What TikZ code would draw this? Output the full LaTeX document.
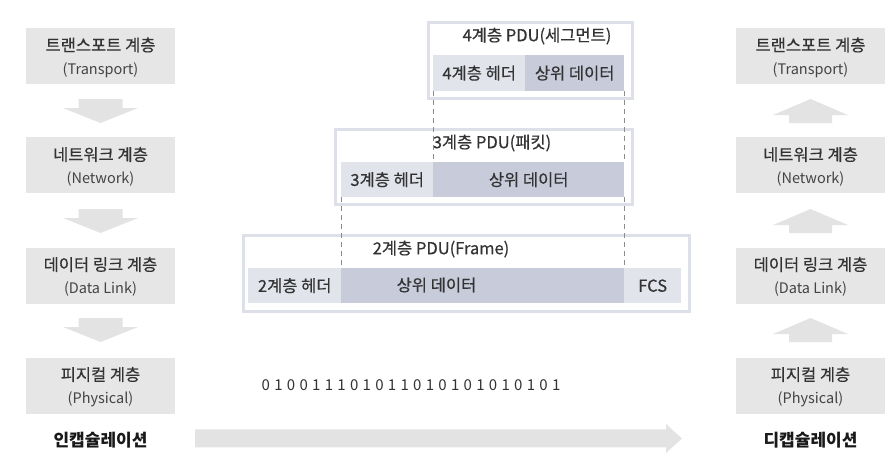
\documentclass[tikz,border=0pt]{standalone}
\usepackage{fontspec}
\setmainfont{Noto Sans CJK KR}[FakeBold=0.5]
\newfontfamily\plainfont{Noto Sans CJK KR}
\usetikzlibrary{calc}

\definecolor{boxgray}{HTML}{E6E6E6}
\definecolor{arrowgray}{HTML}{E3E3E3}
\definecolor{hdrfill}{HTML}{E2E4EC}
\definecolor{datafill}{HTML}{C7CBDA}
\definecolor{pduframe}{HTML}{DDE0E9}
\definecolor{guidegray}{HTML}{8C8C8C}
\definecolor{textdark}{HTML}{333333}
\definecolor{textmid}{HTML}{444444}

% block arrow pointing down: centre x, top y
\newcommand\DownBlock[2]{%
  \fill[arrowgray] ({#1-22},{#2}) -- ({#1+22},{#2}) -- ({#1+22},{#2+9})
    -- ({#1+37.5},{#2+9}) -- ({#1},{#2+24}) -- ({#1-37.5},{#2+9})
    -- ({#1-22},{#2+9}) -- cycle;}
% block arrow pointing up: centre x, tip y
\newcommand\UpBlock[2]{%
  \fill[arrowgray] ({#1},{#2}) -- ({#1+37.5},{#2+16}) -- ({#1+21.5},{#2+16})
    -- ({#1+21.5},{#2+24}) -- ({#1-21.5},{#2+24}) -- ({#1-21.5},{#2+16})
    -- ({#1-37.5},{#2+16}) -- cycle;}

\begin{document}
\begin{tikzpicture}[x=1pt,y=-1pt,
  layerbox/.style={fill=boxgray, minimum width=149pt, minimum height=56pt, inner sep=0pt},
  kor/.style={font=\fontsize{16.5}{16.5}\selectfont, text=textdark, inner sep=0pt},
  eng/.style={font=\plainfont\fontsize{14.5}{14.5}\selectfont, text=textmid, inner sep=0pt},
  bold/.style={font=\plainfont\fontsize{17}{17}\selectfont\bfseries, text=black!90, inner sep=0pt},
  pdubox/.style={draw=pduframe, line width=3pt, anchor=north west, inner sep=0pt},
  hdr/.style={fill=hdrfill, anchor=north west, inner sep=0pt, font=\fontsize{16.5}{16.5}\selectfont, text=textdark},
  datab/.style={fill=datafill, anchor=north west, inner sep=0pt, font=\fontsize{16.5}{16.5}\selectfont, text=textdark},
  guide/.style={draw=guidegray, line width=0.9pt, dash pattern=on 5pt off 4pt}
]
\useasboundingbox (0,0) rectangle (896,456);

% ---- sending side (encapsulation) ----
\node[layerbox] (L1) at (100.5,56) {};
\node[kor] (L1k) at (100.5,45) {트랜스포트 계층};
\node[eng] (L1e) at (100.5,70) {(Transport)};
\node[layerbox] (L2) at (100.5,165) {};
\node[kor] (L2k) at (100.5,154.5) {네트워크 계층};
\node[eng] (L2e) at (100.5,178.5) {(Network)};
\node[layerbox] (L3) at (100.5,275.5) {};
\node[kor] (L3k) at (100.5,264.5) {데이터 링크 계층};
\node[eng] (L3e) at (100.5,289) {(Data Link)};
\node[layerbox] (L4) at (100.5,385.5) {};
\node[kor] (L4k) at (100.5,374.5) {피지컬 계층};
\node[eng] (L4e) at (100.5,399) {(Physical)};
\DownBlock{100.5}{99}
\DownBlock{100.5}{209}
\DownBlock{100.5}{318}
\node[bold] (enc) at (100.5,440) {인캡슐레이션};

% ---- receiving side (decapsulation) ----
\node[layerbox] (R1) at (810.5,56) {};
\node[kor] (R1k) at (810.5,45) {트랜스포트 계층};
\node[eng] (R1e) at (810.5,70) {(Transport)};
\node[layerbox] (R2) at (810.5,165) {};
\node[kor] (R2k) at (810.5,154.5) {네트워크 계층};
\node[eng] (R2e) at (810.5,178.5) {(Network)};
\node[layerbox] (R3) at (810.5,275.5) {};
\node[kor] (R3k) at (810.5,264.5) {데이터 링크 계층};
\node[eng] (R3e) at (810.5,289) {(Data Link)};
\node[layerbox] (R4) at (810.5,385.5) {};
\node[kor] (R4k) at (810.5,374.5) {피지컬 계층};
\node[eng] (R4e) at (810.5,399) {(Physical)};
\UpBlock{810.5}{99}
\UpBlock{810.5}{209}
\UpBlock{810.5}{318}
\node[bold] (dec) at (810.5,440) {디캡슐레이션};

% ---- layer 4 PDU ----
\node[pdubox, minimum width=204pt, minimum height=76pt] (P4) at (426.5,20.5) {};
\node[kor] (P4t) at (537,36) {4계층 PDU(세그먼트)};
\node[hdr, minimum width=92pt, minimum height=36pt] (h4) at (433,55) {4계층 헤더};
\node[datab, minimum width=99pt, minimum height=36pt] (d4) at (525,55) {상위 데이터};

% ---- layer 3 PDU ----
\node[pdubox, minimum width=297pt, minimum height=75pt] (P3) at (333.5,127.5) {};
\node[kor] (P3t) at (492,143) {3계층 PDU(패킷)};
\node[hdr, minimum width=92pt, minimum height=35pt] (h3) at (341,162) {3계층 헤더};
\node[datab, minimum width=191pt, minimum height=35pt] (d3) at (433,162) {상위 데이터};

% ---- layer 2 PDU ----
\node[pdubox, minimum width=446pt, minimum height=76pt] (P2) at (241.5,233.5) {};
\node[kor] (P2t) at (441,249) {2계층 PDU(Frame)};
\node[hdr, minimum width=93pt, minimum height=35pt] (h2) at (248,268) {2계층 헤더};
\node[datab, minimum width=283pt, minimum height=35pt] (d2) at (341,268) {};
\node[kor] (d2t) at (436.5,285) {상위 데이터};
\node[hdr, minimum width=57pt, minimum height=35pt] (fcs) at (624,268) {FCS};

% dashed guides: payload of one layer becomes the data of the next
\draw[guide] (h4.south west) -- (d3.north west);
\draw[guide] (d4.south east) -- (d3.north east);
\draw[guide] (h3.south west) -- (d2.north west);
\draw[guide] (d3.south east) -- (d2.north east);

% ---- bit stream ----
\node[inner sep=0pt, text=textdark, font=\plainfont\fontsize{15}{15}\selectfont] (bits) at (411,385)
  {0\hspace{4.3pt}1\hspace{4.3pt}0\hspace{4.3pt}0\hspace{4.3pt}1\hspace{4.3pt}1\hspace{4.3pt}1\hspace{4.3pt}0\hspace{4.3pt}1\hspace{4.3pt}0\hspace{4.3pt}1\hspace{4.3pt}1\hspace{4.3pt}0\hspace{4.3pt}1\hspace{4.3pt}0\hspace{4.3pt}1\hspace{4.3pt}0\hspace{4.3pt}1\hspace{4.3pt}0\hspace{4.3pt}1\hspace{4.3pt}0\hspace{4.3pt}1\hspace{4.3pt}0\hspace{4.3pt}1};

% long direction arrow
\fill[arrowgray] (195,429.3) -- (666,429.3) -- (666,424) -- (682,438.5)
  -- (666,453) -- (666,447.3) -- (195,447.3) -- cycle;
\end{tikzpicture}
\end{document}
